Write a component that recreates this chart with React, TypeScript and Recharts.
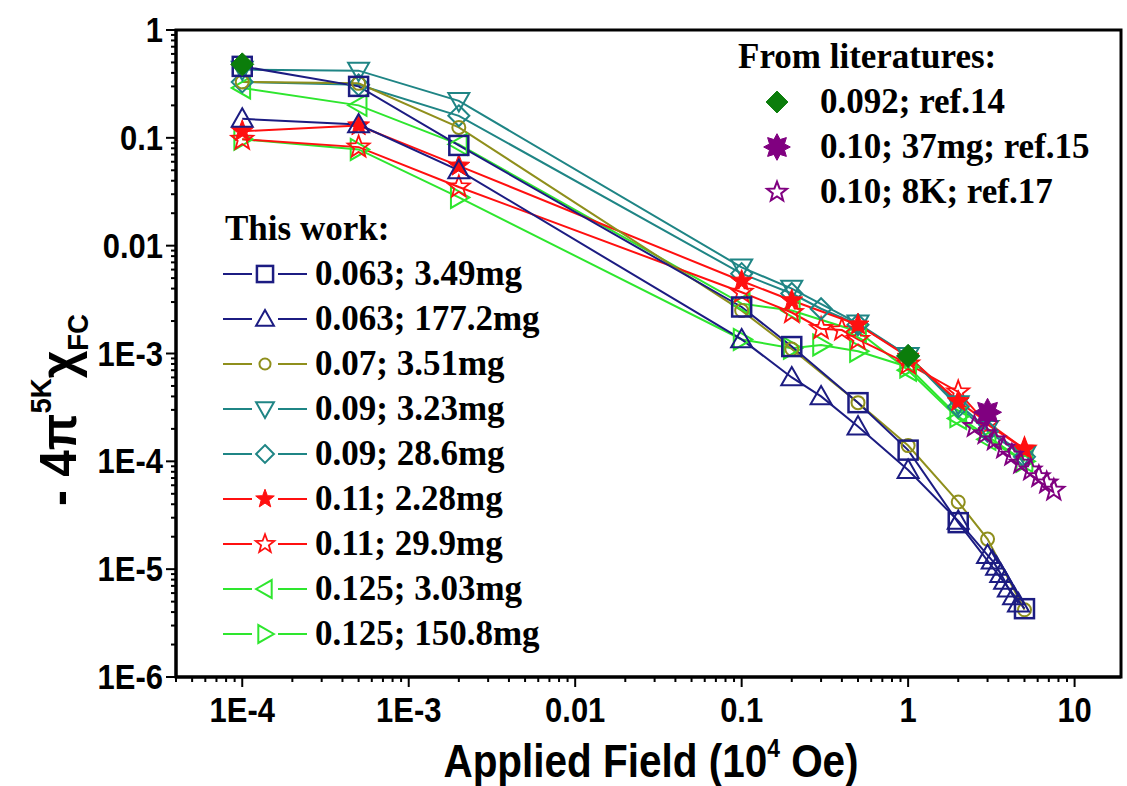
import React from "react";
import { ComposedChart, Line, XAxis, YAxis, ReferenceArea } from "recharts";

// ---------- axis ticks ----------
const xMajor = [1e-4, 1e-3, 0.01, 0.1, 1, 10];
const xMajorLabels = ["1E-4", "1E-3", "0.01", "0.1", "1", "10"];
const yMajor = [1e-6, 1e-5, 1e-4, 1e-3, 0.01, 0.1, 1];
const yMajorLabels = ["1E-6", "1E-5", "1E-4", "1E-3", "0.01", "0.1", "1"];
const minorMultipliers = [2, 3, 4, 5, 6, 7, 8, 9];
const xDomain = [4e-5, 19];
const yDomain = [1e-6, 1];

// ---------- data: this work ----------
const sq_x = [1e-4, 5e-4, 2e-3, 0.1, 0.2, 0.5, 1, 2, 5];
const sq_y = [0.46, 0.3, 0.085, 0.0027, 0.00116, 3.5e-4, 1.27e-4, 2.7e-5, 4.3e-6];

const tu_x = [1e-4, 5e-4, 2e-3, 0.1, 0.2, 0.3, 0.5, 1, 2, 3.0, 3.2, 3.4, 3.6, 3.8, 4.0, 4.3, 4.6];
const tu_y = [0.15, 0.133, 0.05, 1.35e-3, 6.0e-4, 4.0e-4, 2.1e-4, 8.3e-5, 2.8e-5, 1.35e-5, 1.2e-5, 1.05e-5, 9.0e-6, 7.8e-6, 6.6e-6, 5.6e-6, 4.8e-6];

const ci_x = [1e-4, 5e-4, 2e-3, 0.1, 0.2, 0.5, 1, 2, 3, 5];
const ci_y = [0.33, 0.32, 0.125, 2.5e-3, 1.1e-3, 3.5e-4, 1.4e-4, 4.2e-5, 1.9e-5, 4.2e-6];

const td_x = [1e-4, 5e-4, 2e-3, 0.1, 0.2, 0.5, 1, 2, 3, 5];
const td_y = [0.43, 0.42, 0.22, 6.3e-3, 4.0e-3, 1.9e-3, 9.5e-4, 3.4e-4, 2.0e-4, 1.15e-4];

const di_x = [1e-4, 5e-4, 2e-3, 0.1, 0.2, 0.3, 0.5, 1, 2, 3, 5];
const di_y = [0.33, 0.31, 0.16, 5.5e-3, 3.6e-3, 2.6e-3, 1.85e-3, 9.5e-4, 3.2e-4, 1.9e-4, 1.1e-4];

const fs_x = [1e-4, 5e-4, 2e-3, 0.1, 0.2, 0.5, 1, 2, 5];
const fs_y = [0.115, 0.13, 0.055, 4.7e-3, 3.1e-3, 1.85e-3, 9.3e-4, 3.6e-4, 1.3e-4];

const os_x = [1e-4, 5e-4, 2e-3, 0.1, 0.2, 0.3, 0.4, 0.5, 1, 2, 3, 5];
const os_y = [0.097, 0.082, 0.035, 3.7e-3, 2.4e-3, 1.7e-3, 1.65e-3, 1.35e-3, 8.0e-4, 4.4e-4, 2.2e-4, 1.3e-4];

const lt_x = [1e-4, 5e-4, 2e-3, 0.1, 0.2, 0.5, 1, 2, 3, 5];
const lt_y = [0.29, 0.2, 0.087, 2.9e-3, 2.5e-3, 1.6e-3, 7.0e-4, 2.5e-4, 1.6e-4, 1.0e-4];

const rt_x = [1e-4, 5e-4, 2e-3, 0.1, 0.2, 0.3, 0.5, 1, 2, 5];
const rt_y = [0.097, 0.078, 0.028, 1.35e-3, 1.12e-3, 1.2e-3, 1.05e-3, 7.5e-4, 2.6e-4, 1.0e-4];

// ---------- data: literature ----------
const ref14_x = [1e-4, 1];
const ref14_y = [0.48, 9.5e-4];
const ref15_x = [3];
const ref15_y = [2.85e-4];
const ref17_x = [2.5, 2.9, 3.3, 3.75, 4.2, 4.75, 5.45, 6.1, 6.8, 7.5];
const ref17_y = [2.1e-4, 1.8e-4, 1.58e-4, 1.33e-4, 1.14e-4, 9.6e-5, 8.3e-5, 7.2e-5, 6.3e-5, 5.4e-5];

const NAVY = "#1c1c82";
const OLIVE = "#8f8f1c";
const TEAL = "#1f8585";
const RED = "#ff1010";
const GREEN = "#2ee62e";
const DKGREEN = "#0b7d0b";
const PURPLE = "#800080";

const zip = (xs: number[], ys: number[]) => xs.map((x, i) => ({ x, y: ys[i] }));

type Shape =
  | "square" | "triUp" | "circle" | "triDown" | "diamond" | "starFilled" | "starOpen"
  | "triLeft" | "triRight" | "diamondFilled" | "burst" | "starSmall";

const series: { name: string; shape: Shape; color: string; xs: number[]; ys: number[]; line: boolean }[] = [
  { name: "0.125; 150.8mg", shape: "triRight", color: GREEN, xs: rt_x, ys: rt_y, line: true },
  { name: "0.125; 3.03mg", shape: "triLeft", color: GREEN, xs: lt_x, ys: lt_y, line: true },
  { name: "0.11; 29.9mg", shape: "starOpen", color: RED, xs: os_x, ys: os_y, line: true },
  { name: "0.09; 28.6mg", shape: "diamond", color: TEAL, xs: di_x, ys: di_y, line: true },
  { name: "0.09; 3.23mg", shape: "triDown", color: TEAL, xs: td_x, ys: td_y, line: true },
  { name: "0.11; 2.28mg", shape: "starFilled", color: RED, xs: fs_x, ys: fs_y, line: true },
  { name: "0.07; 3.51mg", shape: "circle", color: OLIVE, xs: ci_x, ys: ci_y, line: true },
  { name: "0.063; 177.2mg", shape: "triUp", color: NAVY, xs: tu_x, ys: tu_y, line: true },
  { name: "0.063; 3.49mg", shape: "square", color: NAVY, xs: sq_x, ys: sq_y, line: true },
  { name: "0.10; 8K; ref.17", shape: "starSmall", color: PURPLE, xs: ref17_x, ys: ref17_y, line: false },
  { name: "0.10; 37mg; ref.15", shape: "burst", color: PURPLE, xs: ref15_x, ys: ref15_y, line: false },
  { name: "0.092; ref.14", shape: "diamondFilled", color: DKGREEN, xs: ref14_x, ys: ref14_y, line: false },
];

const legendThisWork: { label: string; shape: Shape; color: string }[] = [
  { label: "0.063; 3.49mg", shape: "square", color: NAVY },
  { label: "0.063; 177.2mg", shape: "triUp", color: NAVY },
  { label: "0.07; 3.51mg", shape: "circle", color: OLIVE },
  { label: "0.09; 3.23mg", shape: "triDown", color: TEAL },
  { label: "0.09; 28.6mg", shape: "diamond", color: TEAL },
  { label: "0.11; 2.28mg", shape: "starFilled", color: RED },
  { label: "0.11; 29.9mg", shape: "starOpen", color: RED },
  { label: "0.125; 3.03mg", shape: "triLeft", color: GREEN },
  { label: "0.125; 150.8mg", shape: "triRight", color: GREEN },
];
const legendLit: { label: string; shape: Shape; color: string }[] = [
  { label: "0.092; ref.14", shape: "diamondFilled", color: DKGREEN },
  { label: "0.10; 37mg; ref.15", shape: "burst", color: PURPLE },
  { label: "0.10; 8K; ref.17", shape: "starSmall", color: PURPLE },
];

function starPath(cx: number, cy: number, R: number, r: number, n: number) {
  const pts: string[] = [];
  for (let i = 0; i < 2 * n; i++) {
    const rad = i % 2 === 0 ? R : r;
    const a = -Math.PI / 2 + (i * Math.PI) / n;
    pts.push(`${(cx + rad * Math.cos(a)).toFixed(2)},${(cy + rad * Math.sin(a)).toFixed(2)}`);
  }
  return "M" + pts.join("L") + "Z";
}

function marker(shape: Shape, color: string, cx: number, cy: number, key: string | number, scale = 1) {
  const sw = 2;
  const s = scale;
  switch (shape) {
    case "square": {
      const h = 9.5 * s;
      return <rect key={key} x={cx - h} y={cy - h} width={2 * h} height={2 * h} fill="none" stroke={color} strokeWidth={2.5} />;
    }
    case "triUp": {
      const h = 10.5 * s;
      return <path key={key} d={`M${cx},${cy - h}L${cx + h},${cy + h * 0.75}L${cx - h},${cy + h * 0.75}Z`} fill="none" stroke={color} strokeWidth={sw} />;
    }
    case "triDown": {
      const h = 10.5 * s;
      return <path key={key} d={`M${cx},${cy + h}L${cx + h},${cy - h * 0.75}L${cx - h},${cy - h * 0.75}Z`} fill="none" stroke={color} strokeWidth={sw} />;
    }
    case "triLeft": {
      const h = 10.5 * s;
      return <path key={key} d={`M${cx - h},${cy}L${cx + h * 0.75},${cy - h}L${cx + h * 0.75},${cy + h}Z`} fill="none" stroke={color} strokeWidth={sw} />;
    }
    case "triRight": {
      const h = 10.5 * s;
      return <path key={key} d={`M${cx + h},${cy}L${cx - h * 0.75},${cy - h}L${cx - h * 0.75},${cy + h}Z`} fill="none" stroke={color} strokeWidth={sw} />;
    }
    case "circle":
      return <circle key={key} cx={cx} cy={cy} r={6.5 * s} fill="none" stroke={color} strokeWidth={sw} />;
    case "diamond": {
      const h = 10.5 * s;
      return <path key={key} d={`M${cx},${cy - h}L${cx + h},${cy}L${cx},${cy + h}L${cx - h},${cy}Z`} fill="none" stroke={color} strokeWidth={sw} />;
    }
    case "diamondFilled": {
      const h = 11.5 * s;
      return <path key={key} d={`M${cx},${cy - h}L${cx + h},${cy}L${cx},${cy + h}L${cx - h},${cy}Z`} fill={color} stroke={color} strokeWidth={1} />;
    }
    case "starFilled":
      return <path key={key} d={starPath(cx, cy, 11.5 * s, 4.8 * s, 5)} fill={color} stroke={color} strokeWidth={1} />;
    case "starOpen":
      return <path key={key} d={starPath(cx, cy, 11.5 * s, 4.8 * s, 5)} fill="none" stroke={color} strokeWidth={1.8} />;
    case "starSmall":
      return <path key={key} d={starPath(cx, cy, 11 * s, 4.6 * s, 5)} fill="none" stroke={color} strokeWidth={2} />;
    case "burst":
      return <path key={key} d={starPath(cx, cy, 14 * s, 8.5 * s, 8)} fill={color} stroke={color} strokeWidth={1} />;
  }
  return null;
}

const isMajor = (v: number, arr: number[]) => arr.findIndex((m) => Math.abs(m - v) / m < 1e-6);

function buildTicks(majors: number[], lo: number, hi: number) {
  const out: number[] = [];
  const decades = [majors[0] / 10, ...majors];
  decades.forEach((d) => {
    if (d >= lo && d <= hi) out.push(d);
    minorMultipliers.forEach((k) => {
      const v = d * k;
      if (v >= lo && v <= hi) out.push(v);
    });
  });
  return out;
}

const xTicks = buildTicks(xMajor, xDomain[0], xDomain[1]);
const yTicks = buildTicks(yMajor, yDomain[0], yDomain[1]);

const SANS = "'Liberation Sans', Arial, sans-serif";
const SERIF = "'Liberation Serif', 'Times New Roman', serif";

const XTick = (props: any) => {
  const { x, y, payload } = props;
  const idx = isMajor(payload.value, xMajor);
  const major = idx >= 0;
  return (
    <g>
      <line x1={x} x2={x} y1={y} y2={y + (major ? 10 : 5)} stroke="#000" strokeWidth={2} />
      {major && (
        <text transform={`translate(${x},${y + 45}) scale(0.86,1)`} x={0} y={0} textAnchor="middle" fontFamily={SANS} fontWeight="bold" fontSize={36} fill="#000">
          {xMajorLabels[idx]}
        </text>
      )}
    </g>
  );
};

const YTick = (props: any) => {
  const { x, y, payload } = props;
  const idx = isMajor(payload.value, yMajor);
  const major = idx >= 0;
  return (
    <g>
      <line x1={x} x2={x - (major ? 10 : 5)} y1={y} y2={y} stroke="#000" strokeWidth={2} />
      {major && (
        <text transform={`translate(${x - 13},${y + 12}) scale(0.86,1)`} x={0} y={0} textAnchor="end" fontFamily={SANS} fontWeight="bold" fontSize={36} fill="#000">
          {yMajorLabels[idx]}
        </text>
      )}
    </g>
  );
};

export default function App() {
  return (
    <div style={{ position: "relative", width: 1127, height: 786, background: "#fff" }}>
      <style>{"body{margin:0;background:#fff}"}</style>
      <ComposedChart width={1127} height={786} margin={{ top: 30, right: 6, left: 0, bottom: 0 }}>
        <XAxis
          dataKey="x"
          type="number"
          scale="log"
          domain={xDomain}
          allowDataOverflow
          ticks={xTicks}
          interval={0}
          tick={<XTick />}
          tickLine={false}
          tickSize={0}
          tickMargin={0}
          axisLine={{ stroke: "#000", strokeWidth: 3 }}
          height={109}
        />
        <YAxis
          dataKey="y"
          type="number"
          scale="log"
          domain={yDomain}
          allowDataOverflow
          ticks={yTicks}
          interval={0}
          tick={<YTick />}
          tickLine={false}
          tickSize={0}
          tickMargin={0}
          axisLine={{ stroke: "#000", strokeWidth: 3 }}
          width={176}
        />
        <ReferenceArea x1={xDomain[0]} x2={xDomain[1]} y1={yDomain[0]} y2={yDomain[1]} fill="none" stroke="#000" strokeWidth={3} ifOverflow="visible" />
        {series.map((s) => (
          <Line
            key={s.name}
            data={zip(s.xs, s.ys)}
            dataKey="y"
            type="linear"
            stroke={s.line ? s.color : "none"}
            strokeWidth={s.line ? 2 : 0}
            isAnimationActive={false}
            dot={(p: any) => marker(s.shape, s.color, p.cx, p.cy, `${s.name}-${p.index}`)}
            activeDot={false}
          />
        ))}
      </ComposedChart>
      <svg width={1127} height={786} style={{ position: "absolute", left: 0, top: 0, pointerEvents: "none" }}>
        {/* Literature legend */}
        <text x={738} y={68} fontFamily={SERIF} fontWeight="bold" fontSize={35} fill="#000">From literatures:</text>
        {legendLit.map((l, i) => (
          <g key={l.label}>
            {marker(l.shape, l.color, 777, 102 + 45 * i, `ll-${i}`, 0.95)}
            <text x={820} y={113 + 45 * i} fontFamily={SERIF} fontWeight="bold" fontSize={35} fill="#000">{l.label}</text>
          </g>
        ))}
        {/* This work legend */}
        <text x={225} y={240} fontFamily={SERIF} fontWeight="bold" fontSize={35} fill="#000">This work:</text>
        {legendThisWork.map((l, i) => (
          <g key={l.label}>
            <line x1={223} x2={307} y1={274 + 45 * i} y2={274 + 45 * i} stroke={l.color} strokeWidth={2} />
            <rect x={252} y={261 + 45 * i} width={26} height={26} fill="#fff" />
            {marker(l.shape, l.color, 265, 274 + 45 * i, `lt-${i}`, 0.85)}
            <text x={315} y={285 + 45 * i} fontFamily={SERIF} fontWeight="bold" fontSize={35} fill="#000">{l.label}</text>
          </g>
        ))}
        {/* Axis titles */}
        <text transform="translate(651,777) scale(0.88,1)" x={0} y={0} textAnchor="middle" fontFamily={SANS} fontWeight="bold" fontSize={46} fill="#000">
          Applied Field (10<tspan dy={-20} fontSize={26}>4</tspan><tspan dy={20}> Oe)</tspan>
        </text>
        <text transform="translate(76,410) rotate(-90) scale(0.92,1)" x={0} y={0} textAnchor="middle" fontFamily={SANS} fontWeight="bold" fontSize={52} fill="#000">
          - 4π<tspan dy={-25} fontSize={30}>5K</tspan><tspan dy={25}>χ</tspan><tspan dy={12} fontSize={30}>FC</tspan>
        </text>
      </svg>
    </div>
  );
}
